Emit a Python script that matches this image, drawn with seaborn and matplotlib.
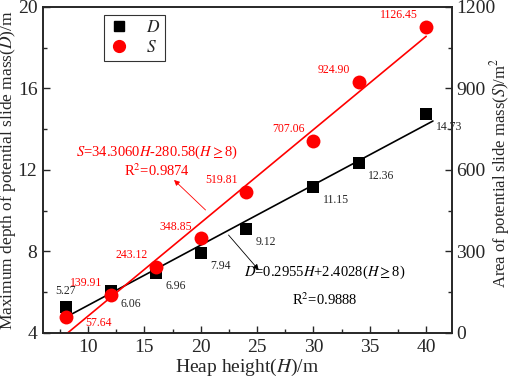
import matplotlib
matplotlib.use("Agg")
import numpy as np
import pandas as pd
import matplotlib.pyplot as plt
import seaborn as sns
from matplotlib.lines import Line2D

sns.set_style("ticks")
plt.rcParams["font.family"] = ["Liberation Serif", "DejaVu Serif"]
plt.rcParams["mathtext.fontset"] = "stix"

# data
heap_h = [8, 12, 16, 20, 24, 30, 34, 40]
depth_d = [5.27, 6.06, 6.96, 7.94, 9.12, 11.15, 12.36, 14.73]
area_s = [57.64, 139.91, 243.12, 348.85, 519.81, 707.06, 924.90, 1126.45]
d_fit = (0.2955, 2.4028)
s_fit = (34.3060, -280.58)

df = pd.DataFrame({"H": heap_h, "D": depth_d, "S": area_s})

fig = plt.figure(figsize=(5.12, 3.81), dpi=100)
ax = fig.add_axes([0.084, 0.126, 0.799, 0.856])
ax2 = ax.twinx()

# fit lines
hd = np.array([8, 40.6])
fit_d = pd.DataFrame({"H": hd, "D": d_fit[0] * hd + d_fit[1]})
sns.lineplot(data=fit_d, x="H", y="D", color="black", lw=1.2, ax=ax, zorder=2)
hs = np.array([8, 40])
fit_s = pd.DataFrame({"H": hs, "S": s_fit[0] * hs + s_fit[1]})
sns.lineplot(data=fit_s, x="H", y="S", color="red", lw=1.2, ax=ax2, zorder=2)

sns.scatterplot(data=df, x="H", y="D", marker="s", color="black", s=80,
                edgecolor="black", linewidth=0, ax=ax, zorder=3)
sns.scatterplot(data=df, x="H", y="S", marker="o", color="red", s=100,
                edgecolor="red", linewidth=0, ax=ax2, zorder=3)

# value labels
for i, (h, d) in enumerate(zip(heap_h, depth_d)):
    if i == 0:
        ax.annotate(f"{d:.2f}", (h, d), xytext=(0, 7), textcoords="offset points",
                    ha="center", va="bottom", fontsize=8.5)
    else:
        ax.annotate(f"{d:.2f}", (h, d), xytext=(7, -5), textcoords="offset points",
                    ha="left", va="top", fontsize=8.5)
for i, (h, s) in enumerate(zip(heap_h, area_s)):
    if i == 0:
        ax2.annotate(f"{s:.2f}", (h, s), xytext=(14, -4), textcoords="offset points",
                     ha="left", va="center", fontsize=8.5, color="red")
    else:
        ax2.annotate(f"{s:.2f}", (h, s), xytext=(-6, 4), textcoords="offset points",
                     ha="right", va="bottom", fontsize=8.5, color="red")

# equations
ax.text(16.1, 12.88, r"$S$=34.3060$H$-280.58($H\geq$8)", color="red",
        ha="center", va="center", fontsize=10.5)
ax.text(16.1, 11.95, r"R$^2$=0.9874", color="red", ha="center", va="center", fontsize=10.5)
ax.annotate("", xy=(17.45, 11.6), xytext=(20.6, 9.94),
            arrowprops=dict(arrowstyle="-|>", color="red", lw=0.6, mutation_scale=8))
ax.text(31.0, 6.99, r"$D$=0.2955$H$+2.4028($H\geq$8)", color="black",
        ha="center", va="center", fontsize=10.5)
ax.text(31.0, 5.65, r"R$^2$=0.9888", color="black", ha="center", va="center", fontsize=10.5)
ax.annotate("", xy=(25.3, 6.99), xytext=(22.3, 8.91),
            arrowprops=dict(arrowstyle="-|>", color="black", lw=0.6, mutation_scale=8))

ax.set_xlim(6, 42.3)
ax.set_ylim(4, 20)
ax2.set_ylim(0, 1200)
ax.set_xticks([10, 15, 20, 25, 30, 35, 40])
ax.set_xticks(np.arange(7.5, 42, 2.5), minor=True)
ax.set_yticks([4, 8, 12, 16, 20])
ax.set_yticks([6, 10, 14, 18], minor=True)
ax2.set_yticks([0, 300, 600, 900, 1200])
ax2.set_yticks([150, 450, 750, 1050], minor=True)

for a in (ax, ax2):
    a.tick_params(direction="in", which="major", length=5, width=1, labelsize=14, pad=4)
    a.tick_params(direction="in", which="minor", length=3, width=1)
    for sp in a.spines.values():
        sp.set_linewidth(1.2)
        sp.set_visible(True)
ax.tick_params(top=False, which="both")
ax2.tick_params(top=False, which="both")
ax2.tick_params(axis="y", pad=3)

ax.set_xlabel(r"Heap height($H$)/m", fontsize=14, labelpad=1)
ax.set_ylabel(r"Maximum depth of potential slide mass($D$)/m", fontsize=12.5)
ax2.set_ylabel(r"Area of potential slide mass($S$)/m$^2$", fontsize=12)
ax.yaxis.set_label_coords(-0.062, 0.5)
ax2.yaxis.set_label_coords(1.088, 0.49)

handles = [Line2D([], [], marker="s", color="black", ls="", markersize=7),
           Line2D([], [], marker="o", color="red", ls="", markersize=8.5)]
leg = ax.legend(handles, [r"$D$", r"$S$"], loc="upper left", bbox_to_anchor=(0.14, 0.985),
                frameon=True, fancybox=False, fontsize=12.5, handletextpad=1.0,
                borderpad=0.25, labelspacing=0.25, handlelength=1.2, borderaxespad=0.2)
leg.get_frame().set_edgecolor("black")
leg.get_frame().set_linewidth(0.8)

fig.savefig("out.png", dpi=100)
